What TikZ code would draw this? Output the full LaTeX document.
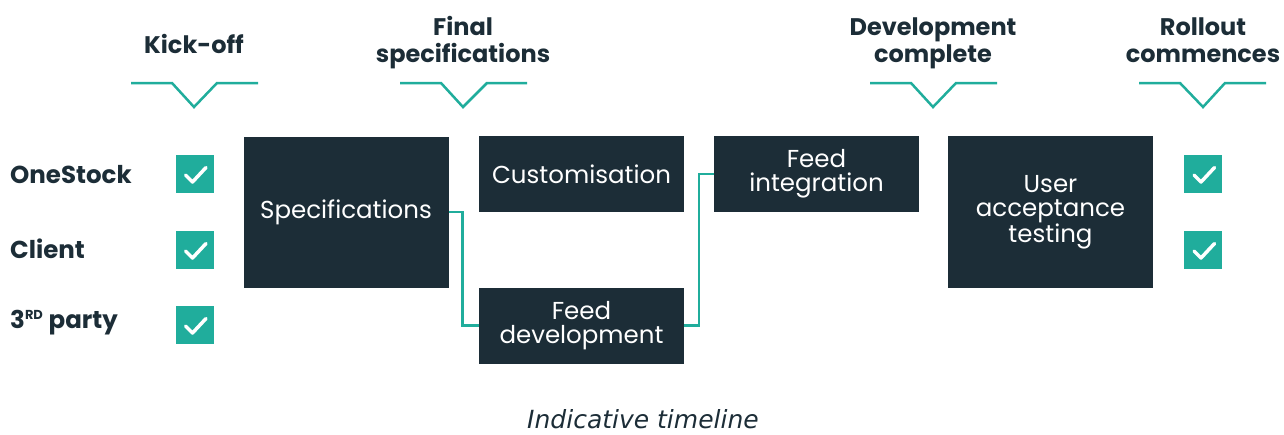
\documentclass[tikz,border=0pt]{standalone}
\usepackage{fontspec}
\setmainfont{Poppins}
\newfontfamily\capfont{DejaVu Sans}
\definecolor{navy}{HTML}{1C2D37}
\definecolor{teal}{HTML}{20AD9C}
\begin{document}
\begin{tikzpicture}[x=1pt,y=-1pt,
  stage/.style={fill=navy,text=white,inner sep=0pt,minimum width=205,align=center,
     font=\fontsize{24.5}{24}\selectfont},
  chk/.style={fill=teal,minimum width=38,minimum height=38,inner sep=0pt,
     path picture={\draw[white,line width=3.5,line cap=round,line join=round]
       ([shift={(-9,1)}]path picture bounding box.center) -- ++(7,7) -- ++(13.5,-14.5);}},
  mile/.style={text=navy,align=center,font=\fontsize{24}{27}\selectfont\bfseries},
  rowlab/.style={text=navy,anchor=west,inner sep=0pt,font=\fontsize{24.5}{24}\selectfont\bfseries},
  link/.style={teal,line width=2.5},
  chev/.style={teal,line width=2.5}]
\useasboundingbox (0,0) rectangle (1284,434);
% stage boxes
\node[stage,minimum height=151] (spec) at (346,212) {Specifications};
\node[stage,minimum height=76] (cust) at (581.5,174) {Customisation};
\node[stage,minimum height=76] (fdev) at (581.5,325.5) {Feed\\development};
\node[stage,minimum height=76] (fint) at (816.5,174) {Feed\\integration};
\node[stage,minimum height=152] (uat) at (1050.5,212) {User\\acceptance\\testing};
% connectors
\draw[link] (spec.east) -- (462.5,212) |- (fdev.west);
\draw[link] (fdev.east) -- (699,325.5) |- (fint.west);
% row labels
\node[rowlab] (l1) at (10,175) {OneStock};
\node[rowlab] (l2) at (10,249) {Client};
\node[rowlab] (l3) at (10,323) {3\textsuperscript{\fontsize{13}{13}\selectfont RD} party};
% check boxes
\node[chk] (c1) at (194.5,174) {};
\node[chk] (c2) at (194.5,250) {};
\node[chk] (c3) at (194.5,325) {};
\node[chk] (c4) at (1203,174) {};
\node[chk] (c5) at (1203,250) {};
% milestones
\node[mile] (m1) at (194,44) {Kick-off};
\node[mile] (m2) at (463,43) {Final\\specifications};
\node[mile] (m3) at (933,43) {Development\\complete};
\node[mile] (m4) at (1203,40.5) {Rollout\\commences};
\draw[chev] (131,83) -- (172,83) -- (194,107) -- (217,83) -- (258,83);
\draw[chev] (400,83) -- (441,83) -- (463,107) -- (487,83) -- (527,83);
\draw[chev] (870,83) -- (911,83) -- (933,107) -- (956,83) -- (997,83);
\draw[chev] (1139,83) -- (1180,83) -- (1203,107) -- (1225,83) -- (1266,83);
% caption
\node[text=navy,font=\capfont\itshape\fontsize{25}{28}\selectfont] (cap) at (643,419) {Indicative timeline};
\end{tikzpicture}
\end{document}
